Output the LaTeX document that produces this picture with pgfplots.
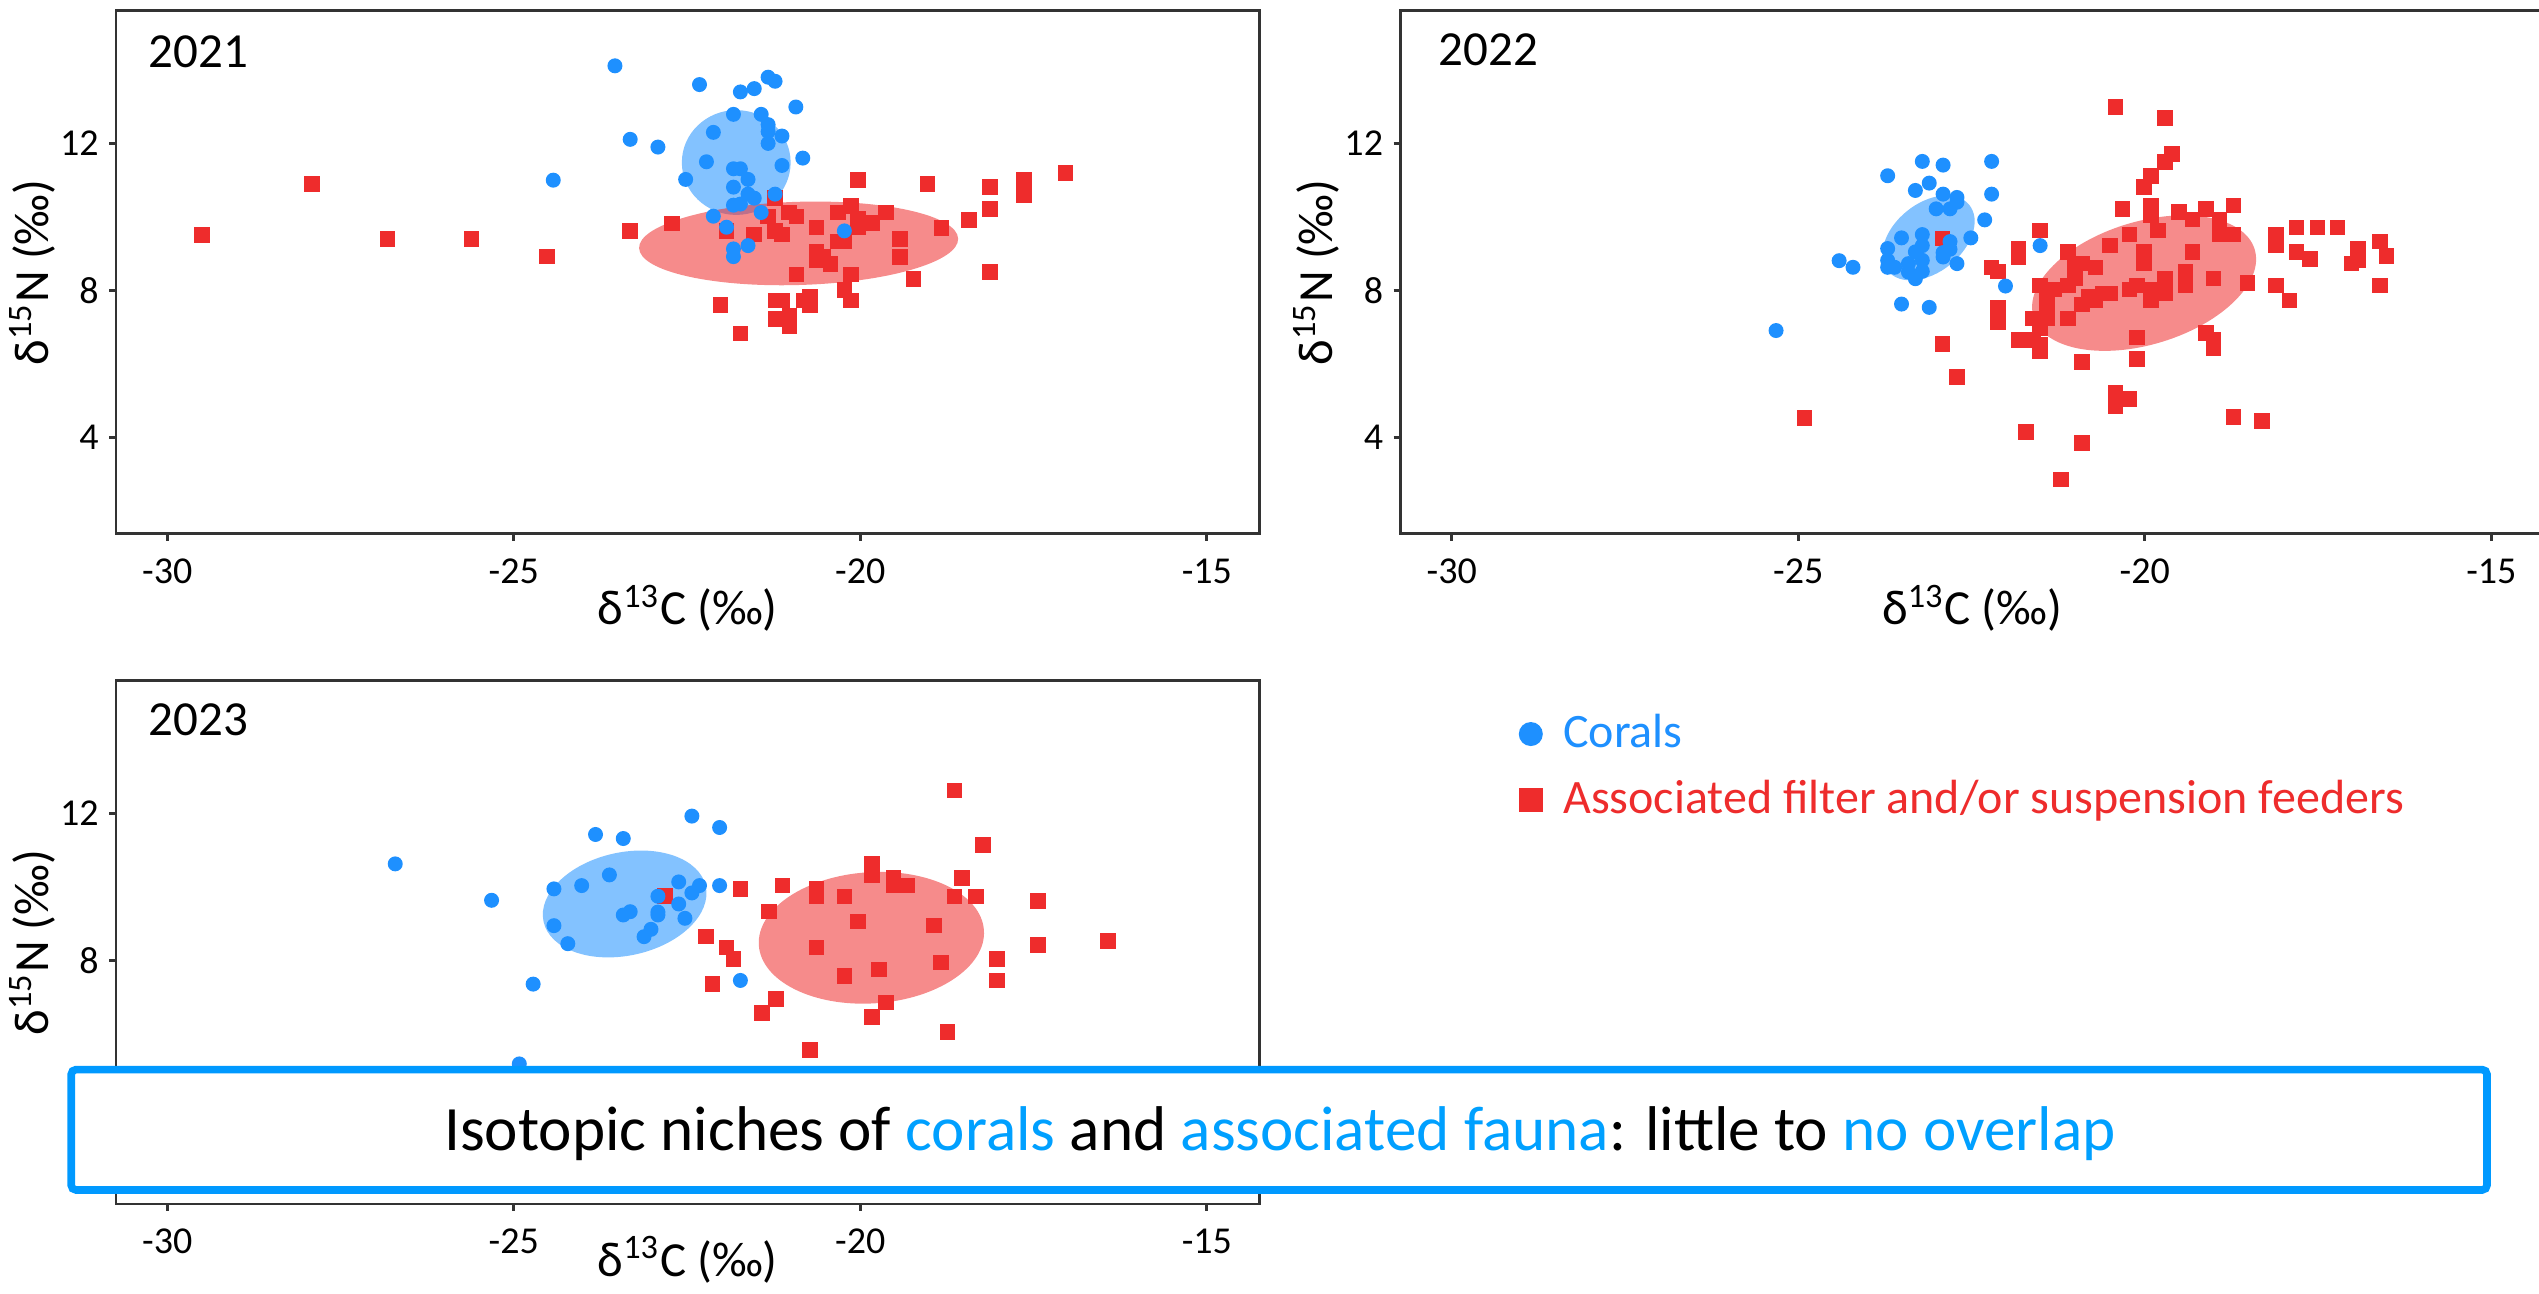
\documentclass[border=0pt]{standalone}
\usepackage{fontspec}
\setmainfont{Carlito}
\usepackage{pgfplots}
\pgfplotsset{compat=1.18}
\definecolor{cblue}{RGB}{30,144,255}
\definecolor{cred}{RGB}{238,44,44}
\definecolor{axgray}{RGB}{51,51,51}
\definecolor{bannerblue}{RGB}{0,153,255}
\definecolor{txtblue}{RGB}{0,160,255}
\newcommand{\tickfont}{\fontsize{9.5}{11}\selectfont}
\newcommand{\labfont}{\fontsize{12.25}{14}\selectfont}
\pgfplotsset{
  panel/.style={
    scale only axis, width=285.9pt, height=130.8pt,
    xmin=-30.74, xmax=-14.24, ymin=1.38, ymax=15.61,
    axis line style={draw=axgray, line width=0.7pt},
    xtick={-30,-25,-20,-15}, xticklabels={-30,-25,-20,-15},
    ytick={4,8,12}, yticklabels={4,8,12},
    tick align=outside, tick pos=left,
    major tick length=1.7pt,
    tick style={draw=axgray, line width=0.7pt},
    xticklabel style={font=\tickfont, anchor=base, inner sep=0pt, yshift=-10.8pt},
    yticklabel style={font=\tickfont, anchor=east, inner sep=0pt, xshift=-2.45pt},
    xlabel={δ\textsuperscript{13}C (‰)}, ylabel={δ\textsuperscript{15}N (‰)},
    label style={font=\labfont, inner sep=0pt},
    xlabel style={at={(axis description cs:0.5,-0.1735)}, anchor=base},
    ylabel style={at={(axis description cs:-0.059,0.5)}, anchor=base},
    clip=false,
  },
  coral/.style={only marks, mark=*, mark size=1.67pt, color=cblue, mark options={draw=none, fill=cblue}},
  feeder/.style={only marks, mark=square*, mark size=1.75pt, color=cred, mark options={draw=none, fill=cred}},
}
\begin{document}
\begin{tikzpicture}
\useasboundingbox (0,0) rectangle (634.75pt,323.5pt);
\clip (0,0) rectangle (634.75pt,323.5pt);

% ---------------- 2021 ----------------
\begin{axis}[panel, at={(28.98pt,190.03pt)}, anchor=south west]
\addplot[feeder] coordinates {
(-29.50,9.51) (-27.91,10.90) (-26.82,9.40) (-25.61,9.40) (-24.52,8.92) (-23.32,9.62)
(-22.72,9.82) (-21.93,9.62) (-21.53,9.52) (-21.33,10.01) (-21.23,10.51) (-21.23,9.62)
(-21.13,9.52) (-21.03,10.12) (-20.92,10.01) (-20.63,9.71) (-20.03,11.01) (-20.32,10.12)
(-20.13,10.30) (-20.03,9.94) (-20.03,9.72) (-19.83,9.83) (-19.63,10.12) (-20.32,9.33)
(-20.23,9.33) (-20.63,9.04) (-20.53,8.92) (-20.63,8.81) (-20.43,8.72) (-20.92,8.43)
(-20.13,8.43) (-20.23,8.02) (-20.13,7.73) (-19.43,9.40) (-19.43,8.91) (-19.23,8.31)
(-19.03,10.89) (-18.83,9.70) (-18.43,9.91) (-18.13,10.81) (-18.13,10.21) (-18.13,8.50)
(-17.64,11.00) (-17.64,10.59) (-17.04,11.19) (-22.02,7.61) (-21.22,7.73) (-21.12,7.73)
(-20.82,7.73) (-20.73,7.84) (-20.73,7.61) (-21.22,7.23) (-21.02,7.32) (-21.02,7.02)
(-21.73,6.83)
};
\addplot[coral] coordinates {
(-23.54,14.11) (-22.32,13.60) (-21.73,13.40) (-21.53,13.49) (-21.33,13.80) (-21.23,13.69)
(-20.93,12.99) (-21.83,12.79) (-21.43,12.79) (-21.33,12.51) (-21.33,12.32) (-21.13,12.20)
(-21.33,12.00) (-22.12,12.30) (-23.32,12.11) (-22.92,11.90) (-20.83,11.60) (-22.22,11.50)
(-21.13,11.40) (-21.83,11.31) (-21.73,11.31) (-22.52,11.02) (-21.62,11.02) (-21.83,10.81)
(-21.23,10.62) (-21.62,10.62) (-21.53,10.51) (-21.83,10.32) (-21.73,10.35) (-21.43,10.12)
(-22.12,10.02) (-21.93,9.72) (-21.83,9.13) (-21.83,8.92) (-21.62,9.22) (-20.23,9.62)
(-24.43,11.00)
};
\fill[cblue, fill opacity=0.55] (axis cs:-21.79,11.48) circle [x radius=13.6pt, y radius=13.1pt];
\fill[cred, fill opacity=0.55] (axis cs:-20.89,9.28) circle [x radius=39.9pt, y radius=10.4pt, rotate=1.7];
\node[anchor=base west, font=\labfont] at (rel axis cs:0.0164,0.892) {2021};
\end{axis}

% ---------------- 2022 ----------------
\begin{axis}[panel, at={(350.1pt,190.03pt)}, anchor=south west]
\addplot[feeder] coordinates {
(-20.42,12.99) (-19.71,12.69) (-19.61,11.71) (-19.71,11.50) (-19.91,11.12) (-20.01,10.82)
(-20.32,10.22) (-19.91,10.31) (-19.91,10.04) (-19.81,9.63) (-19.51,10.13) (-19.31,9.93)
(-20.22,9.52) (-20.50,9.22) (-20.01,9.05) (-20.01,8.73) (-19.31,9.05) (-19.41,8.52)
(-19.41,8.14) (-19.71,8.32) (-19.71,7.92) (-19.91,7.73) (-20.11,8.14) (-20.22,8.03)
(-19.91,8.03) (-21.11,9.05) (-20.91,8.73) (-20.71,8.62) (-21.01,8.62) (-21.01,8.32)
(-21.11,8.14) (-21.51,8.14) (-21.31,8.03) (-20.61,7.92) (-20.50,7.92) (-20.81,7.83)
(-20.91,7.62) (-20.71,7.73) (-21.41,7.83) (-21.41,7.51) (-21.61,7.24) (-21.41,7.24)
(-21.11,7.24) (-21.51,6.97) (-21.82,6.65) (-21.61,6.65) (-21.51,6.34) (-21.51,6.52)
(-21.82,9.12) (-21.82,8.91) (-21.51,9.63) (-22.21,8.63) (-22.12,8.52) (-22.12,7.54)
(-22.12,7.15) (-22.92,6.54) (-22.71,5.64) (-20.91,6.05) (-20.11,6.72) (-20.11,6.14)
(-20.42,5.23) (-20.42,4.85) (-20.22,5.05) (-21.71,4.15) (-20.91,3.85) (-21.21,2.86)
(-22.92,9.41) (-19.12,10.22) (-18.72,10.31) (-18.92,9.93) (-18.92,9.52) (-18.72,9.52)
(-19.01,8.32) (-18.52,8.21) (-18.11,9.52) (-18.11,9.22) (-17.81,9.71) (-17.51,9.71)
(-17.22,9.71) (-17.81,9.04) (-17.62,8.86) (-16.92,9.12) (-16.92,8.82) (-17.02,8.73)
(-16.61,9.33) (-16.51,8.93) (-16.61,8.14) (-18.11,8.14) (-17.91,7.73) (-19.12,6.84)
(-19.01,6.65) (-19.01,6.43) (-18.72,4.56) (-18.31,4.45) (-24.91,4.53)
};
\addplot[coral] coordinates {
(-24.21,8.63) (-23.71,11.12) (-23.21,11.51) (-22.91,11.41) (-22.21,11.51) (-23.31,10.72)
(-23.11,10.92) (-22.91,10.62) (-22.71,10.53) (-22.71,10.40) (-23.01,10.22) (-22.81,10.22)
(-22.21,10.62) (-22.31,9.92) (-22.51,9.43) (-23.51,9.43) (-23.21,9.52) (-23.21,9.22)
(-22.81,9.33) (-22.81,9.12) (-22.91,9.03) (-22.91,8.91) (-23.31,9.05) (-23.71,9.14)
(-23.71,8.82) (-23.71,8.63) (-23.61,8.63) (-23.41,8.73) (-23.21,8.82) (-23.41,8.50)
(-23.21,8.52) (-23.31,8.32) (-22.71,8.73) (-21.51,9.22) (-22.01,8.12) (-23.51,7.63)
(-23.11,7.54) (-25.32,6.91) (-24.41,8.81)
};
\fill[cblue, fill opacity=0.55] (axis cs:-23.12,9.43) circle [x radius=13.1pt, y radius=8.6pt, rotate=39];
\fill[cred, fill opacity=0.55] (axis cs:-20.01,8.20) circle [x radius=28.9pt, y radius=15.35pt, rotate=17];
\node[anchor=base west, font=\labfont] at (rel axis cs:0.021,0.896) {2022};
\end{axis}

% ---------------- 2023 ----------------
\begin{axis}[panel, at={(28.98pt,22.5pt)}, anchor=south west,
  xlabel style={at={(axis description cs:0.5,-0.138)}, anchor=base}]
\addplot[feeder] coordinates {
(-22.82,9.75) (-21.73,9.95) (-21.32,9.33) (-22.23,8.66) (-21.93,8.36) (-21.83,8.05)
(-22.13,7.36) (-21.42,6.57) (-21.22,6.95) (-21.12,10.04) (-20.73,5.57) (-20.63,9.95)
(-20.63,9.75) (-20.23,9.74) (-19.83,10.62) (-19.83,10.32) (-19.52,10.24) (-19.32,10.04)
(-19.52,10.04) (-20.03,9.06) (-20.63,8.36) (-20.23,7.58) (-19.73,7.76) (-19.63,6.86)
(-19.83,6.47) (-18.94,8.95) (-18.84,7.95) (-18.74,6.05) (-18.64,12.63) (-18.23,11.14)
(-18.53,10.25) (-18.64,9.74) (-18.33,9.74) (-18.03,8.05) (-18.03,7.46) (-17.44,9.62)
(-17.44,8.43) (-16.43,8.54)
};
\addplot[coral] coordinates {
(-26.71,10.63) (-25.32,9.64) (-23.82,11.43) (-23.42,11.32) (-22.43,11.93) (-22.03,11.62)
(-24.42,9.95) (-24.02,10.04) (-23.62,10.33) (-22.62,10.14) (-22.32,10.04) (-22.43,9.84)
(-22.03,10.04) (-22.92,9.75) (-22.62,9.54) (-22.92,9.32) (-22.92,9.24) (-23.42,9.24)
(-23.32,9.33) (-22.53,9.15) (-23.02,8.85) (-23.12,8.65) (-24.42,8.95) (-24.22,8.46)
(-24.72,7.36) (-21.73,7.46) (-24.92,5.19)
};
\fill[cblue, fill opacity=0.55] (axis cs:-23.40,9.54) circle [x radius=20.75pt, y radius=12.9pt, rotate=12.3];
\fill[cred, fill opacity=0.55] (axis cs:-19.84,8.62) circle [x radius=28.2pt, y radius=16.4pt, rotate=3.8];
\node[anchor=base west, font=\labfont] at (rel axis cs:0.0164,0.8964) {2023};
\end{axis}

% ---------------- overlay: legend and banner ----------------
\begin{axis}[at={(0pt,0pt)}, anchor=south west, scale only axis,
  width=634.75pt, height=323.5pt, xmin=0, xmax=634.75, ymin=0, ymax=323.5,
  hide axis, clip=false,
  legend style={draw=none, fill=none, at={(axis cs:379.9,146.9)}, anchor=north west,
    inner sep=0pt, outer sep=0pt, row sep=2.6pt, font=\fontsize{12}{14}\selectfont,
    /tikz/every odd column/.style={column sep=3.3pt}},
  legend cell align=left,
  legend image code/.code={\draw[#1] plot coordinates {(2.8pt,0pt)};}]
\addlegendimage{only marks, mark=*, mark size=2.8pt, color=cblue, mark options={draw=none, fill=cblue}}
\addlegendentry{\textcolor{cblue}{Corals}}
\addlegendimage{only marks, mark=square*, mark size=2.8pt, color=cred, mark options={draw=none, fill=cred}}
\addlegendentry{\textcolor{cred}{Associated filter and/or suspension feeders}}
\draw[bannerblue, line width=1.9pt, fill=white, rounded corners=1.2pt] (axis cs:17.8,26.0) rectangle (axis cs:621.75,56.1);
\node[anchor=base, font=\fontsize{15.8}{18}\selectfont] at (axis cs:320,35.8) {Isotopic niches of \textcolor{txtblue}{corals} and \textcolor{txtblue}{associated fauna}: little to \textcolor{txtblue}{no overlap}};
\end{axis}
\end{tikzpicture}
\end{document}
